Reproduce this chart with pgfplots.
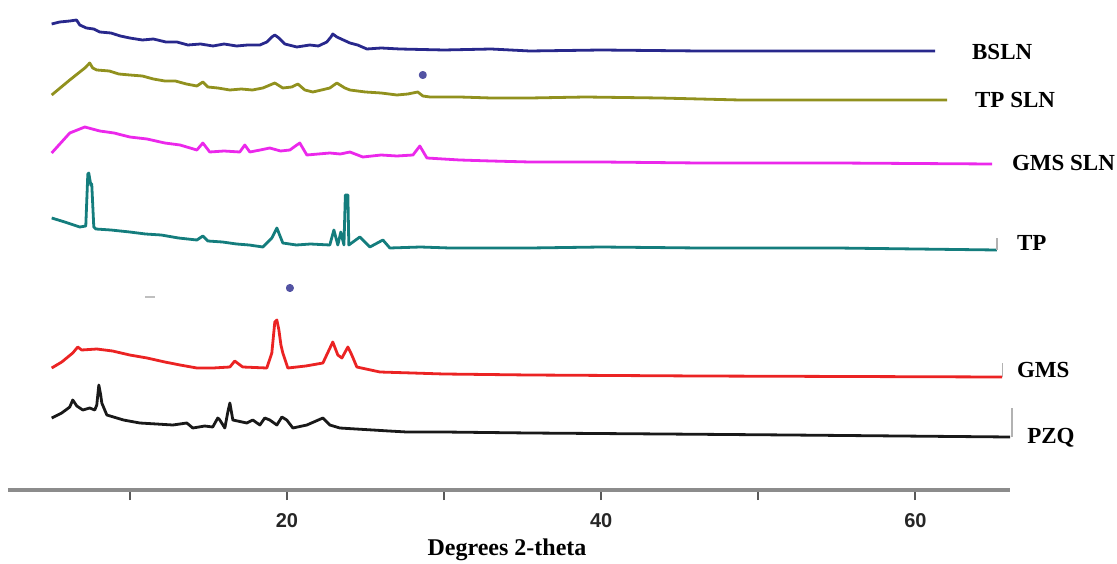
\documentclass[border=0pt]{standalone}
\usepackage{pgfplots}
\pgfplotsset{compat=1.18}
\usepackage{fontspec}
\setmainfont{Liberation Serif}
\setsansfont{Liberation Sans}
\definecolor{cBSLN}{RGB}{40,40,140}
\definecolor{cTPSLN}{RGB}{145,145,30}
\definecolor{cGMSSLN}{RGB}{235,40,235}
\definecolor{cTP}{RGB}{20,125,125}
\definecolor{cGMS}{RGB}{235,35,35}
\definecolor{cPZQ}{RGB}{25,25,25}
\begin{document}
\begin{tikzpicture}
\useasboundingbox (0,0) rectangle (558.5pt,281.5pt);
\begin{axis}[
  at={(4pt,36.5pt)}, anchor=south west,
  scale only axis, width=501pt, height=245pt,
  xmin=2.25, xmax=66.02, ymin=0, ymax=490,
  axis x line=bottom, axis y line=none,
  x axis line style={-, draw=black!45, line width=2pt},
  xtick={10,20,30,40,50,60},
  xticklabels={,20,,40,,60},
  tick align=outside,
  major tick length=5pt,
  x tick style={draw=black!65, line width=1pt},
  xticklabel style={font=\sffamily\bfseries\fontsize{10}{11}\selectfont, text=black!85, anchor=center, yshift=-10.5pt},
  xlabel={Degrees 2-theta},
  xlabel style={at={(axis description cs:0.498,-0.123)}, anchor=center, font=\bfseries\fontsize{12}{14}\selectfont},
  clip=false,
  every axis plot/.append style={line width=1.4pt, line join=round, mark=none},
]
% BSLN
\addplot[cBSLN] coordinates {
(5.03,466)(5.54,468)(6.18,469)(6.61,470)(6.82,465)(7.24,462)(7.7,461)(8.09,458)(8.8,457)(9.4,454)(10,452)(10.8,450)(11.5,451)(12.3,448)(13.0,448)(13.7,445)(14.5,446)(15.3,444)(16.0,446)(16.8,444)(17.5,445)(18.28,445)(18.72,448)(19.04,453)(19.23,455)(19.49,452)(19.87,446)(20.63,443)(21.46,445)(22.0,444)(22.54,448)(22.80,453)(22.92,456)(23.18,453)(24.01,447)(24.5,445)(25.09,441)(26.0,442)(27.19,441)(30,440)(33,441)(35.46,439)(40,440)(46.28,439)(50,439)(61.25,439)
};
% TP SLN
\addplot[cTPSLN] coordinates {
(5.03,395)(6.18,410)(7.14,422)(7.45,427)(7.64,422)(7.90,420)(8.7,419)(9.3,416)(10,415)(10.8,414)(11.5,411)(12.23,409)(12.9,409)(13.6,406)(14.27,404)(14.65,408)(14.97,403)(15.6,402)(16.37,400)(17.1,401)(17.8,400)(18.47,402)(19.23,407)(19.74,402)(20.31,403)(20.70,406)(21.14,400)(21.65,398)(22.2,400)(22.73,402)(23.18,407)(23.69,402)(24.01,400)(25.0,398)(26.0,397)(27.00,395)(27.7,396)(28.33,398)(28.65,394)(29.10,393)(31,393)(33,392)(35.46,392)(39,393)(43.74,392)(48.83,390)(55,390)(62.01,390)
};
% GMS SLN
\addplot[cGMSSLN] coordinates {
(5.03,337)(6.18,357)(7.14,363)(8.09,359)(9.0,357)(10,353)(11.1,351)(12.23,347)(13.2,345)(14.27,340)(14.65,347)(15.09,338)(16.0,339)(17.00,338)(17.32,345)(17.64,338)(18.3,340)(18.91,342)(19.6,339)(20.19,340)(20.63,345)(20.82,347)(21.27,335)(22.0,336)(22.73,337)(23.4,336)(24.01,338)(24.83,333)(26,335)(27,334)(28.02,335)(28.46,344)(28.91,332)(31,330)(33,329)(35.46,328)(40,328)(46.28,327)(55,327)(64.88,326)
};
% TP
\addplot[cTP] coordinates {
(5.03,272)(5.86,268)(6.82,263)(7.20,264)(7.33,316)(7.39,317)(7.52,305)(7.58,306)(7.71,263)(7.84,261)(8.8,260)(10,258)(11.0,256)(12.0,255)(13.1,252)(14.27,250)(14.65,254)(14.97,249)(15.9,248)(16.8,246)(17.6,245)(18.47,243)(19.04,252)(19.36,262)(19.74,247)(20.6,245)(21.5,246)(22.73,245)(22.99,260)(23.24,245)(23.43,258)(23.63,245)(23.72,295)(23.88,295)(23.94,245)(24.64,253)(25.28,243)(26.11,250)(26.55,242)(28.5,243)(30.37,242)(35.46,242)(40,243)(46.28,242)(55,242)(65.19,240)
};
% GMS
\addplot[cGMS] coordinates {
(5.03,122)(5.67,128)(6.37,137)(6.69,143)(6.94,140)(7.90,141)(8.9,139)(10,135)(11.1,132)(12.23,128)(13.2,125)(14.27,122)(15.3,122)(16.37,123)(16.68,129)(17.19,123)(18.72,122)(19.04,137)(19.23,168)(19.36,170)(19.49,160)(19.62,145)(19.74,137)(20.06,122)(21.2,124)(22.29,127)(22.92,148)(23.24,135)(23.50,132)(23.88,143)(24.13,135)(24.45,123)(25.92,118)(28,117)(30,116)(35.46,115)(46.28,114)(65.51,113)
};
% PZQ
\addplot[cPZQ] coordinates {
(5.03,72)(5.67,77)(6.18,83)(6.37,90)(6.63,84)(7.01,80)(7.45,82)(7.77,80)(7.90,85)(8.03,105)(8.15,95)(8.22,87)(8.54,75)(9.6,70)(10.64,67)(11.7,66)(12.74,65)(13.63,67)(14.01,62)(14.77,64)(15.28,63)(15.60,72)(15.73,70)(16.05,62)(16.24,78)(16.37,87)(16.56,70)(17.45,67)(17.83,70)(18.28,65)(18.59,72)(18.91,70)(19.36,65)(19.68,73)(19.99,70)(20.38,62)(21.27,65)(22.29,72)(22.73,65)(23.37,62)(24.4,61)(25.47,60)(26.5,59)(27.63,58)(30,58)(35.46,57)(44,56)(52.02,55)(66.02,53)
};
% edge artefacts
\addplot[black!30, line width=0.6pt] coordinates {(65.19,240)(65.19,252)};
\addplot[black!30, line width=0.6pt] coordinates {(65.55,113)(65.55,127)};
\addplot[black!30, line width=0.6pt] coordinates {(66.15,53)(66.15,82)};
\addplot[black!25, line width=0.8pt] coordinates {(11.0,193)(11.6,193)};
\addplot[only marks, mark=*, mark size=1.3pt, cBSLN!80] coordinates {(28.65,415)(20.19,202)};
% labels
\node[anchor=west, font=\bfseries\fontsize{11.5}{13}\selectfont] at (axis cs:63.16,438) {BSLN};
\node[anchor=west, font=\bfseries\fontsize{11.5}{13}\selectfont] at (axis cs:63.35,390) {TP SLN};
\node[anchor=west, font=\bfseries\fontsize{11.5}{13}\selectfont] at (axis cs:65.70,327) {GMS SLN};
\node[anchor=west, font=\bfseries\fontsize{11.5}{13}\selectfont] at (axis cs:66.02,247) {TP};
\node[anchor=west, font=\bfseries\fontsize{11.5}{13}\selectfont] at (axis cs:66.02,120) {GMS};
\node[anchor=west, font=\bfseries\fontsize{11.5}{13}\selectfont] at (axis cs:66.67,52) {PZQ};
\end{axis}
\end{tikzpicture}
\end{document}
